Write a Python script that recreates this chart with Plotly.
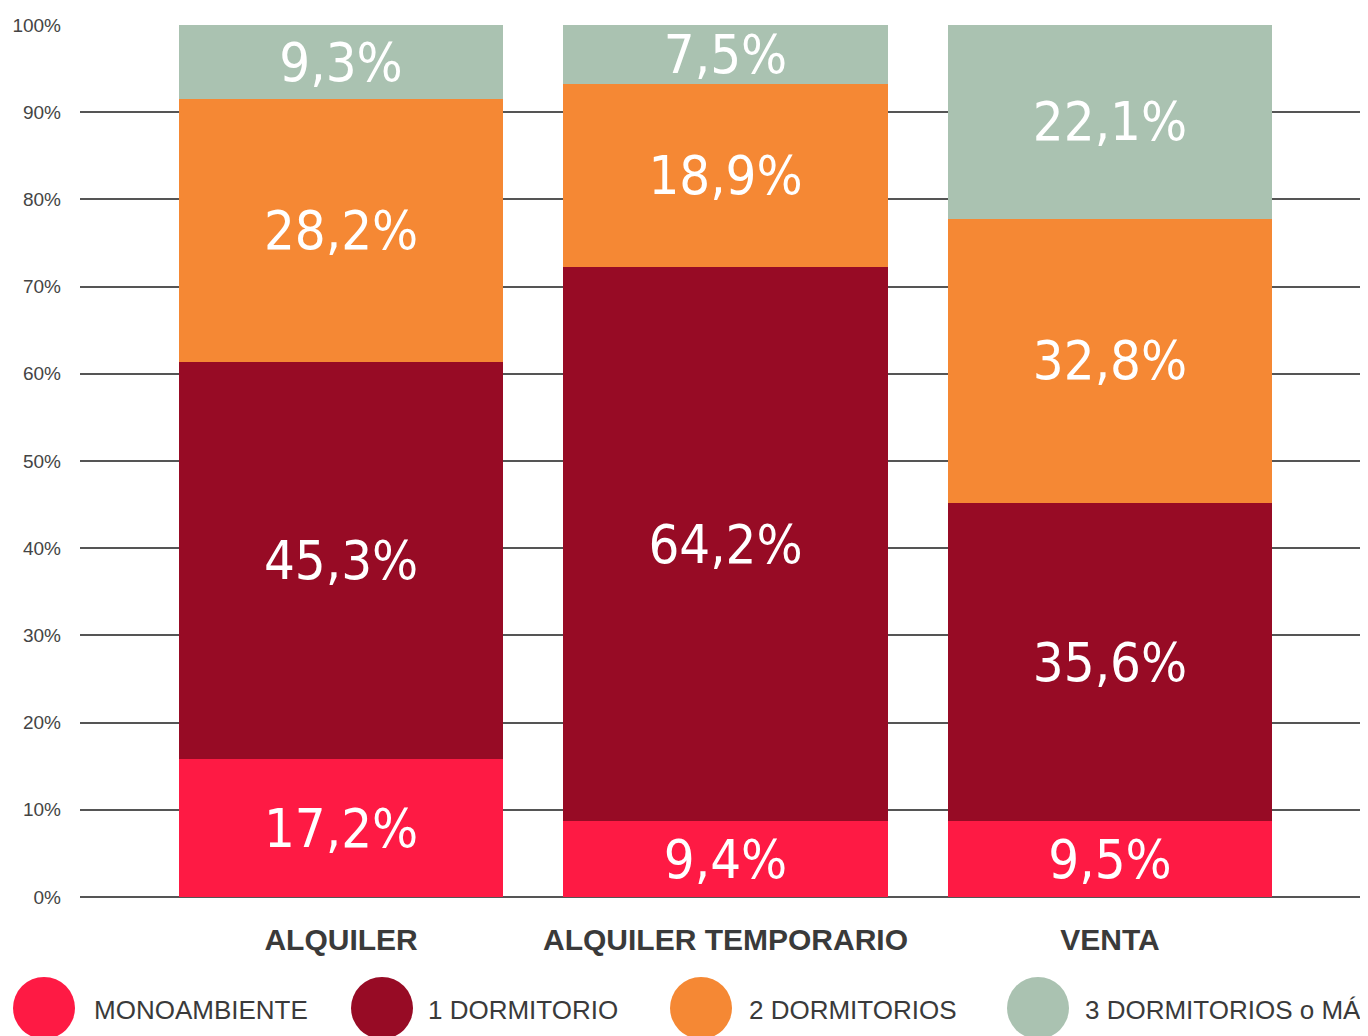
import plotly.graph_objects as go

# --- data ---
categories = ["ALQUILER", "ALQUILER TEMPORARIO", "VENTA"]
series_names = ["MONOAMBIENTE", "1 DORMITORIO", "2 DORMITORIOS", "3 DORMITORIOS o MÁS"]
series_colors = ["#FE1A44", "#970B25", "#F58834", "#AAC2B1"]

# segment heights as drawn (percent of bar)
mono = [15.8, 8.7, 8.7]
dorm1 = [45.6, 63.5, 36.5]
dorm2 = [30.1, 21.0, 32.6]
dorm3 = [8.5, 6.8, 22.2]

# labels printed on the segments
mono_lbl = ["17,2%", "9,4%", "9,5%"]
dorm1_lbl = ["45,3%", "64,2%", "35,6%"]
dorm2_lbl = ["28,2%", "18,9%", "32,8%"]
dorm3_lbl = ["9,3%", "7,5%", "22,1%"]

y_ticks = [0, 10, 20, 30, 40, 50, 60, 70, 80, 90, 100]
y_tick_text = [f"{t}%" for t in y_ticks]

values = [mono, dorm1, dorm2, dorm3]
labels = [mono_lbl, dorm1_lbl, dorm2_lbl, dorm3_lbl]

# --- geometry: window pixels, the page body sits 8px in ---
OFF = 8
W, H = 1368 - OFF, 1036 - OFF
ML = 80 - OFF
MT = 25 - OFF
MB = H - (897 - OFF)
MR = 0
PW, PH = W - ML - MR, H - MT - MB


def px_x(px):
    return (px - OFF - ML) / PW


def px_y(py):
    return (H - MB - (py - OFF)) / PH


label_font = "DejaVu Sans Condensed, Liberation Sans Narrow, sans-serif"

fig = go.Figure()

for name, col, vals, lbl in zip(series_names, series_colors, values, labels):
    fig.add_trace(go.Bar(
        x=categories,
        y=vals,
        name=name,
        text=lbl,
        textposition="inside",
        insidetextanchor="middle",
        constraintext="none",
        textfont=dict(family=label_font, size=54, color="white"),
        marker=dict(color=col, line=dict(width=0)),
        hoverinfo="skip",
        showlegend=False,
    ))

# --- hand-drawn legend (big circles at the bottom) ---
legend_cx = [44, 382, 701, 1038]
legend_tx = [92, 426, 747, 1083]
r = 31
cy = 1008
for col, name, cx, tx in zip(series_colors, series_names, legend_cx, legend_tx):
    fig.add_shape(type="circle", xref="paper", yref="paper",
                  x0=px_x(cx - r), x1=px_x(cx + r), y0=px_y(cy + r), y1=px_y(cy - r),
                  fillcolor=col, line=dict(width=0), layer="above")
    fig.add_annotation(text=name, xref="paper", yref="paper",
                       x=px_x(tx), y=px_y(1010), xanchor="left", yanchor="middle",
                       showarrow=False,
                       font=dict(family="Liberation Sans, Arial, sans-serif", size=26, color="#3a3a3a"))

fig.update_layout(
    width=W, height=H,
    margin=dict(l=ML, r=MR, t=MT, b=MB, pad=0),
    barmode="stack",
    bargap=0.157,
    plot_bgcolor="white",
    paper_bgcolor="white",
    uniformtext=dict(minsize=54, mode="show"),
    xaxis=dict(
        range=[-0.679, 2.671],
        showgrid=False, zeroline=False, showline=False, ticks="",
        tickfont=dict(family="Liberation Sans, Arial, sans-serif", size=30, color="#3a3a3a", weight="bold"),
        ticklabelstandoff=22,
        fixedrange=True,
    ),
    yaxis=dict(
        range=[0, 100],
        tickmode="array",
        tickvals=y_ticks,
        ticktext=y_tick_text,
        showgrid=True, gridcolor="#555555", gridwidth=1.5,
        zeroline=True, zerolinecolor="#555555", zerolinewidth=1.5,
        showline=False, ticks="",
        tickfont=dict(family="Liberation Sans, Arial, sans-serif", size=19, color="#444444"),
        ticklabelstandoff=18,
        fixedrange=True,
    ),
)

fig.write_html("out.html")
